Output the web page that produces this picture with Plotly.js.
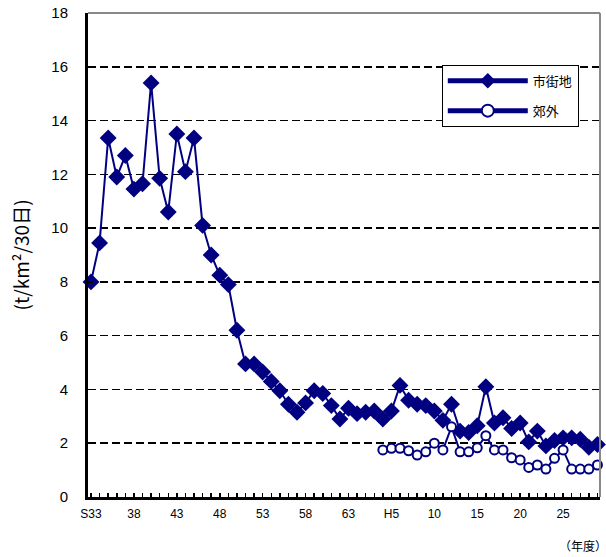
<!DOCTYPE html>
<html>
<head>
<meta charset="utf-8">
<script src="https://cdn.plot.ly/plotly-3.0.1.min.js"></script>
<style>
html,body{margin:0;padding:0;background:#fff;}
#chart{width:606px;height:557px;}
</style>
</head>
<body>
<div id="chart"></div>
<script>
// Fiscal years S33 (1958) .. H29 (2017)
var years = [];
for (var yr = 1958; yr <= 2017; yr++) years.push(yr);

// 市街地 (urban) dustfall, t/km2/30 days
var urbanValues = [
  8.0, 9.45, 13.35, 11.9, 12.7, 11.45, 11.65, 15.4, 11.85, 10.6,
  13.5, 12.1, 13.35, 10.1, 9.0, 8.25, 7.9, 6.2, 4.95, 4.95,
  4.65, 4.3, 3.95, 3.45, 3.15, 3.5, 3.95, 3.85, 3.4, 2.9,
  3.3, 3.1, 3.15, 3.2, 2.9, 3.2, 4.15, 3.6, 3.45, 3.4,
  3.2, 2.85, 3.45, 2.45, 2.4, 2.65, 4.1, 2.75, 2.95, 2.55,
  2.75, 2.05, 2.45, 1.9, 2.1, 2.2, 2.2, 2.15, 1.85, 1.95
];

// 郊外 (suburban) from H4 (1992)
var suburbYears = [];
for (var ys = 1992; ys <= 2017; ys++) suburbYears.push(ys);
var suburbValues = [
  1.75, 1.81, 1.81, 1.72, 1.56, 1.68, 2.0, 1.75, 2.61, 1.68,
  1.68, 1.83, 2.28, 1.75, 1.75, 1.46, 1.38, 1.10, 1.19, 1.04,
  1.44, 1.75, 1.04, 1.04, 1.04, 1.19
];

var xTickVals = [1958, 1963, 1968, 1973, 1978, 1983, 1988, 1993, 1998, 2003, 2008, 2013];
var xTickText = ['S33', '38', '43', '48', '53', '58', '63', 'H5', '10', '15', '20', '25'];
var yTickVals = [0, 2, 4, 6, 8, 10, 12, 14, 16, 18];

var seriesNames = ['市街地', '郊外'];
var navy = '#000080';

var traces = [
  {
    x: years, y: urbanValues, name: seriesNames[0], type: 'scatter', mode: 'lines+markers',
    line: {color: navy, width: 2},
    marker: {symbol: 'diamond', size: 13, color: navy, line: {width: 0}},
    legendgroup: 'a', cliponaxis: false
  },
  {
    x: suburbYears, y: suburbValues, name: seriesNames[1], type: 'scatter', mode: 'lines+markers',
    line: {color: navy, width: 2},
    marker: {symbol: 'circle', size: 9, color: '#ffffff', line: {color: navy, width: 2}},
    legendgroup: 'b', cliponaxis: false
  }
];

var jpFont = 'Noto Sans CJK JP, Noto Sans, sans-serif';
var numFont = 'Liberation Sans Narrow, Arial Narrow, Liberation Sans, Arial, sans-serif';

var layout = {
  width: 606, height: 557,
  margin: {l: 88, r: 6, t: 13, b: 60},
  paper_bgcolor: '#ffffff', plot_bgcolor: '#ffffff',
  showlegend: true,
  legend: {
    x: 0.691, y: 0.893, xanchor: 'left', yanchor: 'top',
    bgcolor: '#ffffff', bordercolor: '#000000', borderwidth: 1,
    font: {family: jpFont, size: 13, color: '#000000'},
    itemsizing: 'constant', itemwidth: 80, tracegroupgap: 10,
    entrywidth: 60, entrywidthmode: 'pixels',
    traceorder: 'grouped'
  },
  xaxis: {
    range: [1957.65, 2017.3],
    tickmode: 'array', tickvals: xTickVals, ticktext: xTickText,
    ticks: 'inside', ticklen: 4, tickwidth: 1.5, tickcolor: '#000',
    minor: {tickmode: 'array', tickvals: years, ticks: 'inside', ticklen: 4, tickwidth: 1.5, tickcolor: '#000', showgrid: false},
    showgrid: false, zeroline: false,
    showline: true, linecolor: '#000', linewidth: 3,
    tickfont: {family: numFont, size: 12, color: '#000'},
    ticklabelstandoff: 4
  },
  yaxis: {
    range: [0, 18],
    tickmode: 'array', tickvals: yTickVals,
    ticks: 'inside', ticklen: 5, tickwidth: 1.5, tickcolor: '#000',
    showgrid: true, gridcolor: '#000', gridwidth: 1.5, griddash: '8px,4px',
    zeroline: false,
    showline: true, linecolor: '#000', linewidth: 3,
    tickfont: {family: numFont, size: 15, color: '#000'},
    ticklabelstandoff: 14,
    title: {text: '(t/km²/30日)', font: {family: jpFont, size: 19, color: '#000'}, standoff: 17}
  },
  shapes: [
    {type: 'line', xref: 'paper', yref: 'paper', x0: 0, x1: 1, y0: 1, y1: 1, line: {color: '#888', width: 2}, layer: 'above'},
    {type: 'line', xref: 'paper', yref: 'paper', x0: 1, x1: 1, y0: 0, y1: 1, line: {color: '#888', width: 2}, layer: 'above'}
  ],
  annotations: [
    {text: '（年度）', xref: 'paper', yref: 'paper', x: 0.967, y: -0.101, xanchor: 'center', yanchor: 'middle',
     showarrow: false, font: {family: jpFont, size: 12, color: '#000'}}
  ]
};

Plotly.newPlot('chart', traces, layout, {staticPlot: true, displayModeBar: false});
</script>
</body>
</html>
